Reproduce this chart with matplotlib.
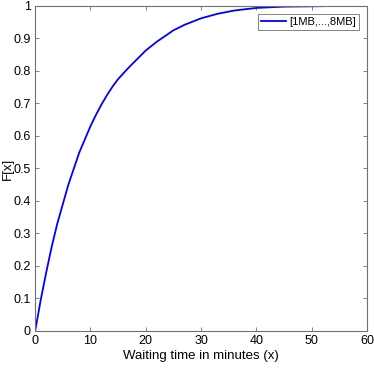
import matplotlib
matplotlib.use("Agg")
import matplotlib.pyplot as plt

wait_min = [0, 1, 2, 3, 4, 5, 6, 7, 8, 9, 10, 11, 12, 13, 14, 15, 17, 20,
            22, 25, 27, 30, 33, 36, 40, 45, 50, 54]
cdf = [0.0, 0.095, 0.18, 0.26, 0.33, 0.39, 0.45, 0.50, 0.55, 0.59, 0.63,
       0.665, 0.697, 0.726, 0.752, 0.775, 0.812, 0.863, 0.89, 0.925, 0.942,
       0.962, 0.976, 0.986, 0.994, 0.998, 0.999, 1.0]
series_label = "[1MB,...,8MB]"

plt.rcParams["font.family"] = ["Liberation Sans", "DejaVu Sans"]

fig = plt.figure(figsize=(3.74, 3.74), dpi=100)
ax = fig.add_axes([0.094, 0.115, 0.887, 0.869])

ax.plot(wait_min, cdf, color="#0000ff", linewidth=1.3, label=series_label)

ax.set_xlim(0, 60)
ax.set_ylim(0, 1)
ax.set_xticks(range(0, 61, 10))
ax.set_yticks([i / 10 for i in range(11)])
ax.set_yticklabels(["0", "0.1", "0.2", "0.3", "0.4", "0.5", "0.6", "0.7", "0.8", "0.9", "1"])

ax.tick_params(direction="in", length=3, width=0.6, color="#707070",
               top=True, right=True, labelsize=9, pad=3)
for s in ax.spines.values():
    s.set_color("#707070")
    s.set_linewidth(0.8)

ax.set_xlabel("Waiting time in minutes (x)", fontsize=9.5, labelpad=2)
ax.set_ylabel("F[x]", fontsize=9.5)
ax.yaxis.set_label_coords(-0.065, 0.5)

leg = ax.legend(loc="upper right", fontsize=8, handlelength=2.2,
                fancybox=False, framealpha=1, borderpad=0.3,
                handletextpad=0.3, borderaxespad=0.7)
leg.get_frame().set_edgecolor("#707070")
leg.get_frame().set_linewidth(0.6)

plt.savefig("out.png", dpi=100)
